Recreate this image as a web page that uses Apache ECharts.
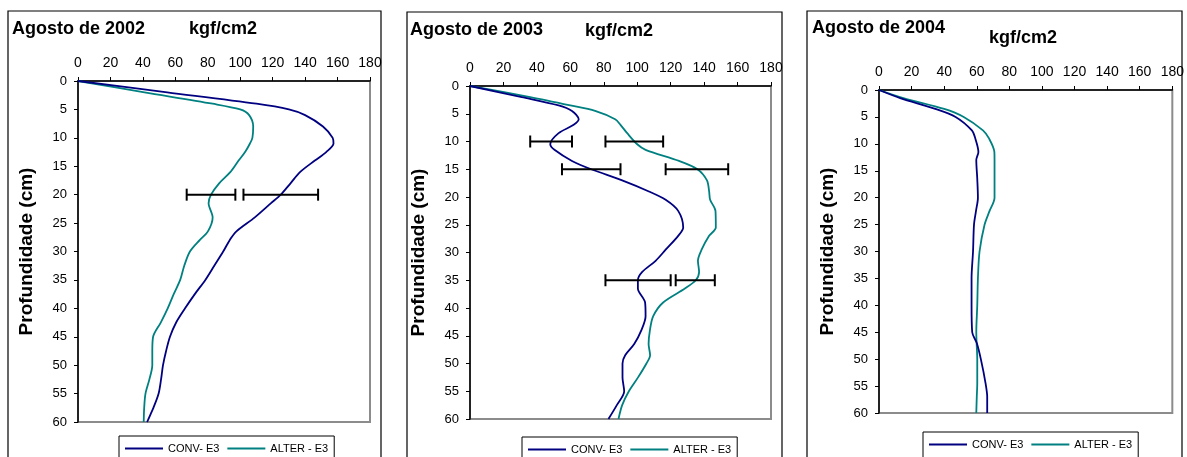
<!DOCTYPE html>
<html>
<head>
<meta charset="utf-8">
<script src="https://cdn.jsdelivr.net/npm/echarts@6/dist/echarts.min.js"></script>
<style>
html,body{margin:0;padding:0;background:#fff;}
#chart{width:1187px;height:457px;}
</style>
</head>
<body>
<div id="chart"></div>
<script>
// ---------- data ----------
const titles = ['Agosto de 2002', 'Agosto de 2003', 'Agosto de 2004'];
const unitLabel = 'kgf/cm2';
const yName = 'Profundidade (cm)';
const seriesNames = ['CONV- E3', 'ALTER - E3'];

const depth02 = [0, 2, 4, 5, 6, 8, 10, 11, 12.5, 14, 16, 18, 20, 21.5, 24, 26.5, 28, 30, 32.5, 35, 37.5, 40, 42.5, 45, 47.5, 50, 52.5, 55, 57.5, 60];
const conv02  = [0, 55, 110, 130, 140, 151, 157, 157.5, 153, 146, 137, 131, 125, 119, 109, 97.5, 93.5, 89.5, 84, 78.5, 72, 66, 60.5, 56.7, 54.3, 52.4, 51.2, 49.7, 46.5, 42.6];
const alter02 = [0, 41, 83, 100, 105.5, 108, 107.5, 106, 103, 99, 94, 87, 82, 80.5, 83, 80, 75, 69, 65.5, 63, 59, 55.3, 51, 46.3, 45.8, 45.8, 44, 41.6, 40.8, 40.5];
const err02 = [[20, 67, 97], [20, 102, 148]];

const depth03 = [0, 2, 3.5, 4.5, 6, 7, 8.5, 10.5, 11.5, 13.5, 15, 17, 19, 20.5, 22.5, 25.5, 27, 29.5, 31.5, 33.5, 35, 36.5, 39, 41.5, 44, 46.5, 48.5, 50, 52.5, 55, 57.5, 60];
const conv03  = [0, 31, 53, 61, 65, 62, 53, 48, 50.5, 61, 72.5, 91, 107, 117, 124.5, 127.5, 124.5, 117, 111, 103, 100.4, 100.4, 104.7, 105, 102.5, 98.2, 92.8, 91.2, 91.2, 92.2, 87.8, 82.8];
const alter03 = [0, 36, 60, 74.8, 86.8, 90, 94, 100, 105, 125, 136, 141.7, 143, 143.6, 146.8, 147, 143, 138.5, 136.3, 137, 135, 128.5, 115.5, 109.5, 107.6, 106.8, 107.7, 105.5, 100.5, 95, 91, 88.8];
const err03 = [[10, 36, 61], [10, 81, 115.5], [15, 55, 90], [15, 117, 154.4], [35, 81, 120], [35, 123, 146.4]];

const depth04 = [0, 1.5, 3.5, 5, 7.5, 9, 11.5, 13, 16.5, 20, 22.5, 25, 30, 35, 40, 45, 47, 50, 54.5, 57, 60];
const conv04  = [0, 13, 34.5, 47, 57, 59.1, 61, 59.7, 60.3, 60.7, 59.5, 58.3, 57.7, 56.8, 56.8, 57.2, 60, 62.5, 65.4, 66.4, 66.4];
const alter04 = [0, 15, 40, 52, 63.8, 67.5, 70.8, 70.9, 70.9, 70.9, 67.8, 64.8, 61.7, 60.7, 60.3, 59.7, 59.9, 60.3, 60.3, 60, 59.7];
const err04 = [];

const xTicks = {min: 0, max: 180, interval: 20};
const yTicks = {min: 0, max: 60, interval: 5};

// ---------- layout / style ----------
const FONT = '"Liberation Sans", Arial, sans-serif';
const NARROW = '"Liberation Sans Narrow", "Arial Narrow", "Liberation Sans", Arial, sans-serif';
const NAVY = '#000080';
const TEAL = '#008080';

const panels = [
  {depth: depth02, conv: conv02, alter: alter02, err: err02,
   grid: {left: 78, top: 81, width: 292, height: 341},
   box: {x: 8, y: 11, w: 373},
   title: {x: 12, y: 29}, unit: {x: 189, y: 29},
   legend: {left: 119, top: 436}},
  {depth: depth03, conv: conv03, alter: alter03, err: err03,
   grid: {left: 470, top: 86, width: 301, height: 333},
   box: {x: 407, y: 12, w: 375},
   title: {x: 410, y: 30}, unit: {x: 585, y: 31},
   legend: {left: 522, top: 437}},
  {depth: depth04, conv: conv04, alter: alter04, err: err04,
   grid: {left: 879, top: 90, width: 295, height: 323},
   box: {x: 807, y: 11, w: 375},
   title: {x: 812, y: 28}, unit: {x: 989, y: 38},
   legend: {left: 923, top: 432}}
];

function pairs(xs, ds) { return ds.map((d, i) => [xs[i], d]); }

const grids = [], xAxes = [], yAxes = [], series = [], legends = [], graphics = [];

panels.forEach((p, i) => {
  grids.push(Object.assign({show: true, borderColor: '#8c8c8c', borderWidth: 2, backgroundColor: 'transparent'}, p.grid));
  xAxes.push({
    type: 'value', gridIndex: i, position: 'top',
    min: xTicks.min, max: xTicks.max, interval: xTicks.interval,
    axisLine: {show: true, onZero: false, lineStyle: {color: '#000', width: 1.5}},
    axisTick: {show: true, length: 4, lineStyle: {color: '#000', width: 1}},
    axisLabel: {color: '#000', fontSize: 14, fontFamily: NARROW, margin: 11},
    splitLine: {show: false}
  });
  yAxes.push({
    type: 'value', gridIndex: i, inverse: true,
    min: yTicks.min, max: yTicks.max, interval: yTicks.interval,
    name: yName, nameLocation: 'middle', nameRotate: 90, nameGap: 42,
    nameTextStyle: {color: '#000', fontSize: 19, fontWeight: 'bold', fontFamily: FONT},
    axisLine: {show: true, onZero: false, lineStyle: {color: '#000', width: 1.5}},
    axisTick: {show: true, length: 4, lineStyle: {color: '#000', width: 1}},
    axisLabel: {color: '#000', fontSize: 13, fontFamily: FONT, margin: 11},
    splitLine: {show: false}
  });
  series.push({
    name: seriesNames[0], type: 'line', xAxisIndex: i, yAxisIndex: i,
    data: pairs(p.conv, p.depth), smooth: 0.3,
    showSymbol: false, symbol: 'none', color: NAVY,
    lineStyle: {color: NAVY, width: 1.8}, z: 3
  });
  series.push({
    name: seriesNames[1], type: 'line', xAxisIndex: i, yAxisIndex: i,
    data: pairs(p.alter, p.depth), smooth: 0.3,
    showSymbol: false, symbol: 'none', color: TEAL,
    lineStyle: {color: TEAL, width: 1.8}, z: 2
  });
  if (p.err.length) {
    series.push({
      type: 'custom', xAxisIndex: i, yAxisIndex: i,
      data: p.err, encode: {x: [1, 2], y: 0}, z: 4,
      renderItem: function (params, api) {
        const d = api.value(0);
        const a = api.coord([api.value(1), d]);
        const b = api.coord([api.value(2), d]);
        const h = 6;
        const st = {stroke: '#000', lineWidth: 2};
        return {type: 'group', children: [
          {type: 'line', shape: {x1: a[0], y1: a[1], x2: b[0], y2: b[1]}, style: st},
          {type: 'line', shape: {x1: a[0], y1: a[1] - h, x2: a[0], y2: a[1] + h}, style: st},
          {type: 'line', shape: {x1: b[0], y1: b[1] - h, x2: b[0], y2: b[1] + h}, style: st}
        ]};
      }
    });
  }
  legends.push({
    left: p.legend.left, top: p.legend.top,
    orient: 'horizontal', selectedMode: false,
    borderColor: '#000', borderWidth: 1, backgroundColor: '#fff',
    padding: [7, 6, 20, 6], itemGap: 8, itemWidth: 38, itemHeight: 2,
    textStyle: {color: '#000', fontSize: 11, fontFamily: FONT},
    data: [{name: seriesNames[0], icon: 'rect'}, {name: seriesNames[1], icon: 'rect'}]
  });
  graphics.push({
    type: 'rect', silent: true, z: 0,
    shape: {x: p.box.x, y: p.box.y, width: p.box.w, height: 480},
    style: {fill: 'none', stroke: '#000', lineWidth: 1.2}
  });
  graphics.push({
    type: 'text', silent: true, x: p.title.x, y: p.title.y,
    style: {text: titles[i], fill: '#000', font: 'bold 18px ' + FONT, textVerticalAlign: 'middle', textAlign: 'left'}
  });
  graphics.push({
    type: 'text', silent: true, x: p.unit.x, y: p.unit.y,
    style: {text: unitLabel, fill: '#000', font: 'bold 18px ' + FONT, textVerticalAlign: 'middle', textAlign: 'left'}
  });
});

const chart = echarts.init(document.getElementById('chart'), null, {renderer: 'canvas'});
chart.setOption({
  backgroundColor: '#fff',
  animation: false,
  grid: grids,
  xAxis: xAxes,
  yAxis: yAxes,
  legend: legends,
  graphic: graphics,
  series: series
});
</script>
</body>
</html>
